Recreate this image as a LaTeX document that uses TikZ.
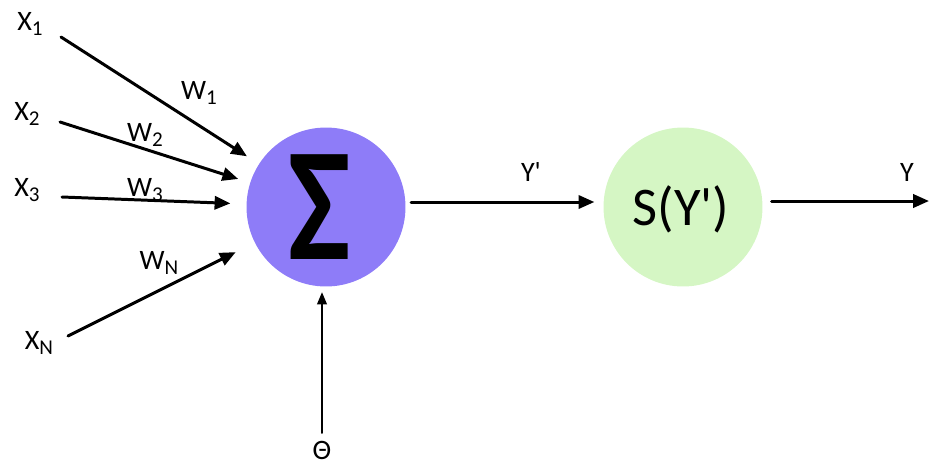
\documentclass[tikz,border=0pt]{standalone}
\usepackage{fontspec}
\setmainfont{Carlito}
\usepackage{tikz}
\usetikzlibrary{arrows.meta}
\definecolor{sumfill}{RGB}{142,124,248}
\definecolor{actfill}{RGB}{213,246,196}
\newcommand{\sub}[1]{\raisebox{-0.4ex}{\fontsize{12}{13}\selectfont #1}}
\tikzset{wire/.style={draw=black,line width=1.7pt,-{Triangle[length=9pt,width=7.5pt]}},
 biaswire/.style={draw=black,line width=1.1pt,-{Triangle[length=7pt,width=5.5pt]}},
 unit/.style={circle,minimum size=3.18cm,inner sep=0pt},
 lbl/.style={font=\fontsize{16}{18}\selectfont,inner sep=0pt},
 every picture/.style={line join=round,line cap=round}}

\begin{document}
\begin{tikzpicture}[x=0.02cm,y=-0.02cm]
\useasboundingbox (0,0) rectangle (929,464);
\node[unit,fill=sumfill] (sum) at (326,207) {};
\node[font=\fontsize{92}{92}\selectfont\bfseries,xscale=0.82] at (320,207) {Σ};
\node[unit,fill=actfill] (act) at (683,207) {};
\node[font=\fontsize{31}{34}\selectfont] at (681,209) {S(Y\textquotesingle)};
\node[lbl] (x1) at (30,24) {X\sub{1}};
\node[lbl] (x2) at (27,114) {X\sub{2}};
\node[lbl] (x3) at (27,190) {X\sub{3}};
\node[lbl] (xn) at (39,343) {X\sub{N}};
\node[lbl] (w1) at (199,93) {W\sub{1}};
\node[lbl] (w2) at (145,135) {W\sub{2}};
\node[lbl] (w3) at (145,190) {W\sub{3}};
\node[lbl] (wn) at (159,263) {W\sub{N}};
\node[lbl] (theta) at (322,450) {Θ};
\node[lbl] (yp) at (531,172) {Y\textquotesingle};
\node[lbl] (y) at (907,172) {Y};
\coordinate (s1) at (61,37);
\coordinate (s2) at (60,122);
\coordinate (s3) at (62,197);
\coordinate (sn) at (68,336);
\coordinate (sb) at (322,433);
\coordinate (out) at (929,201);
\draw[wire,shorten >=8pt] (s1) -- (sum);
\draw[wire,shorten >=7pt] (s2) -- (sum);
\draw[wire,shorten >=9pt] (s3) -- (sum);
\draw[wire,shorten >=12pt] (sn) -- (sum);
\draw[biaswire,shorten >=3pt] (sb) -- (sb |- sum.south);
\draw[wire,shorten <=3pt,shorten >=5pt] ([yshift=0.1cm]sum.east) -- ([yshift=0.1cm]act.west);
\draw[wire,shorten <=5pt] (act.east |- out) -- (out);
\end{tikzpicture}
\end{document}
